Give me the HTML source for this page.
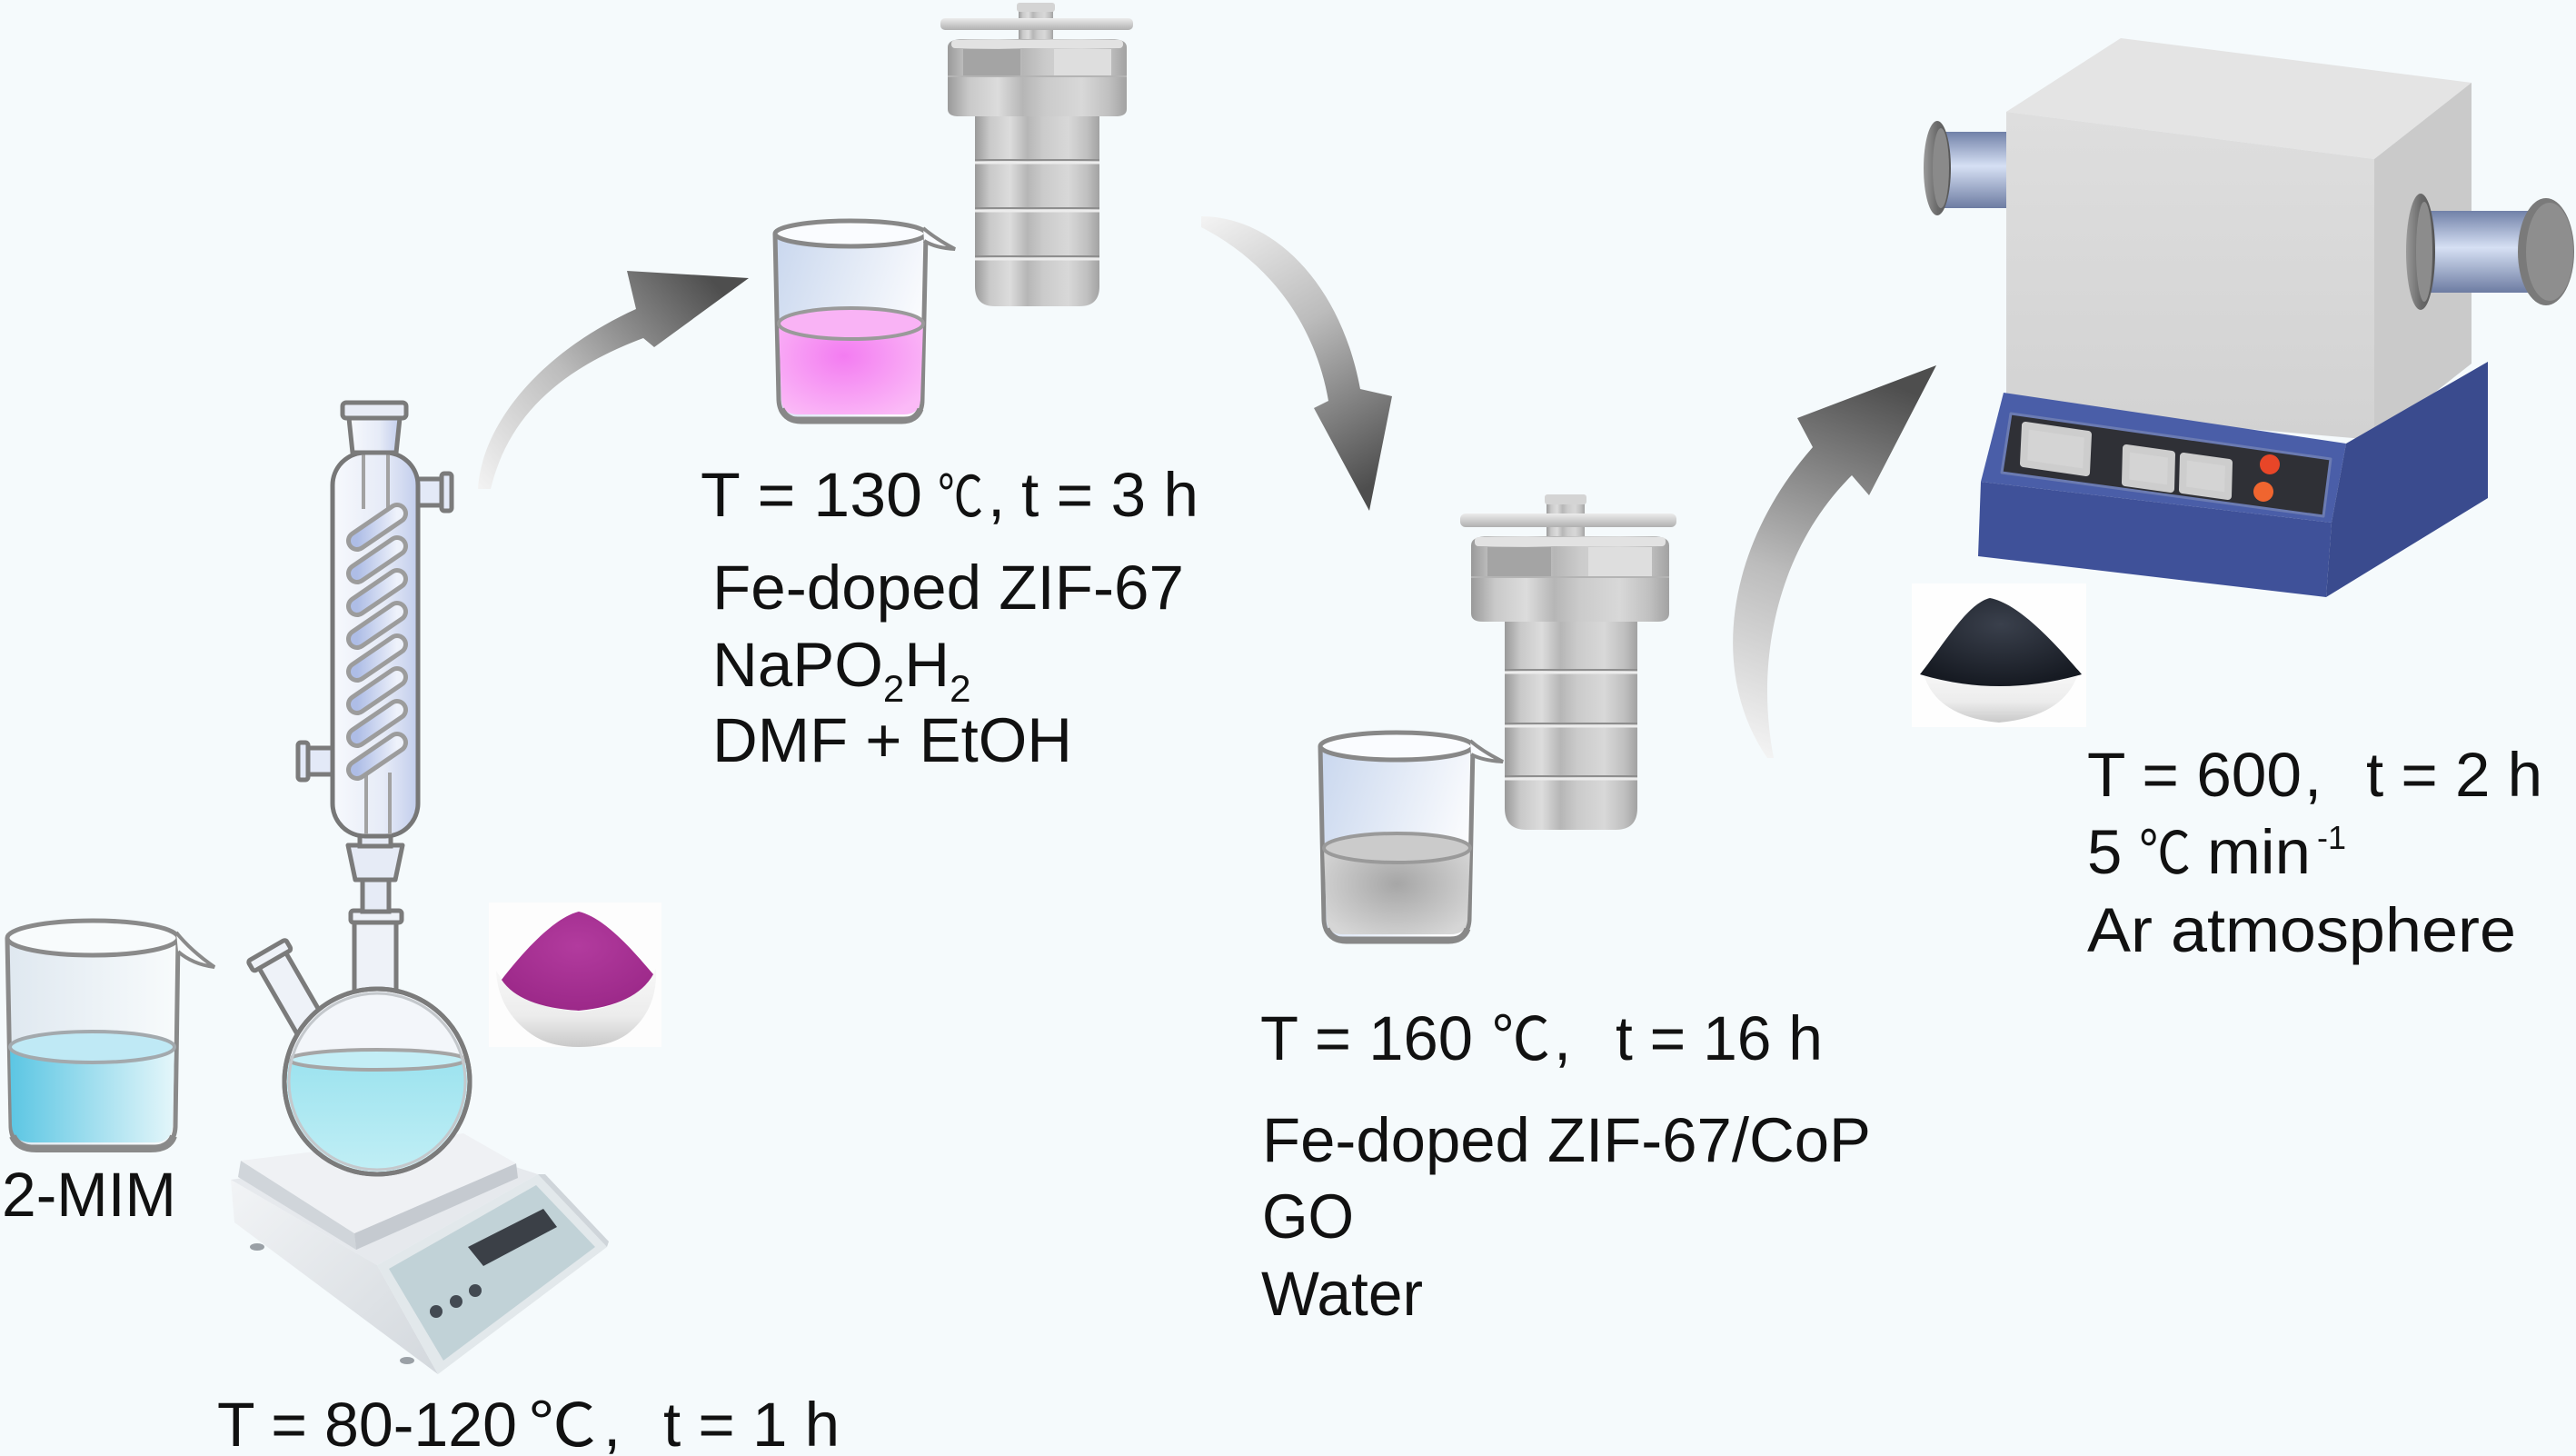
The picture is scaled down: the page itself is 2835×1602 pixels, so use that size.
<!DOCTYPE html>
<html><head><meta charset="utf-8">
<style>
html,body{margin:0;padding:0;background:#f5fafc;}
svg{display:block}
text{font-family:"Liberation Sans",Arial,sans-serif;fill:#111;}
.c{font-family:"Noto Sans CJK SC","Noto Serif CJK SC",sans-serif;}
</style></head>
<body>
<svg xmlns="http://www.w3.org/2000/svg" width="2835" height="1602" viewBox="0 0 2835 1602">
<defs>
  <linearGradient id="metal" x1="0" y1="0" x2="1" y2="0">
    <stop offset="0" stop-color="#9a9a9a"/><stop offset="0.12" stop-color="#c9c9c9"/>
    <stop offset="0.28" stop-color="#dcdcdc"/><stop offset="0.42" stop-color="#b6b6b6"/>
    <stop offset="0.55" stop-color="#cbcbcb"/><stop offset="0.75" stop-color="#d8d8d8"/>
    <stop offset="0.9" stop-color="#c0c0c0"/><stop offset="1" stop-color="#a2a2a2"/>
  </linearGradient>
  <linearGradient id="mV" x1="0" y1="0" x2="0" y2="1">
    <stop offset="0" stop-color="#ececec"/><stop offset="1" stop-color="#b0b0b0"/>
  </linearGradient>
  <linearGradient id="a1" gradientUnits="userSpaceOnUse" x1="528" y1="540" x2="790" y2="315">
    <stop offset="0" stop-color="#f3f3f3"/><stop offset="0.45" stop-color="#bcbcbc"/><stop offset="1" stop-color="#4e4e4e"/>
  </linearGradient>
  <linearGradient id="a2" gradientUnits="userSpaceOnUse" x1="1322" y1="240" x2="1500" y2="540">
    <stop offset="0" stop-color="#f3f3f3"/><stop offset="0.45" stop-color="#bcbcbc"/><stop offset="1" stop-color="#4e4e4e"/>
  </linearGradient>
  <linearGradient id="a3" gradientUnits="userSpaceOnUse" x1="1945" y1="832" x2="2100" y2="430">
    <stop offset="0" stop-color="#f3f3f3"/><stop offset="0.45" stop-color="#bcbcbc"/><stop offset="1" stop-color="#4e4e4e"/>
  </linearGradient>
  <linearGradient id="glassL" x1="0" y1="0" x2="1" y2="0">
    <stop offset="0" stop-color="#dfe8f0"/><stop offset="1" stop-color="#f8fbfc"/>
  </linearGradient>
  <linearGradient id="glassP" x1="0" y1="0" x2="1" y2="0.4">
    <stop offset="0" stop-color="#c9d7ee"/><stop offset="1" stop-color="#fbfcfe"/>
  </linearGradient>
  <linearGradient id="liqB" x1="0" y1="0" x2="1" y2="0">
    <stop offset="0" stop-color="#5cc6e3"/><stop offset="1" stop-color="#e4f6fa"/>
  </linearGradient>
  <radialGradient id="pinkL" cx="0.45" cy="0.45" r="0.65">
    <stop offset="0" stop-color="#f37cf1"/><stop offset="1" stop-color="#fbbaf7"/>
  </radialGradient>
  <radialGradient id="greyL" cx="0.5" cy="0.5" r="0.6">
    <stop offset="0" stop-color="#a6a6a6"/><stop offset="1" stop-color="#d6d6d6"/>
  </radialGradient>
  <linearGradient id="cond" x1="0" y1="0" x2="1" y2="0">
    <stop offset="0" stop-color="#f7f9fd"/><stop offset="0.6" stop-color="#e6ebf7"/><stop offset="1" stop-color="#c2cdec"/>
  </linearGradient>
  <linearGradient id="coil" x1="0" y1="0" x2="1" y2="0">
    <stop offset="0" stop-color="#aebde6"/><stop offset="1" stop-color="#eef2fb"/>
  </linearGradient>
  <linearGradient id="flq" x1="0" y1="0" x2="0" y2="1">
    <stop offset="0" stop-color="#9ce3ef"/><stop offset="1" stop-color="#c6f0f6"/>
  </linearGradient>
  <linearGradient id="pipe" x1="0" y1="0" x2="0" y2="1">
    <stop offset="0" stop-color="#7181a8"/><stop offset="0.45" stop-color="#d6e0f4"/><stop offset="1" stop-color="#6d7ca2"/>
  </linearGradient>
  <linearGradient id="disc" x1="0" y1="0" x2="1" y2="0">
    <stop offset="0" stop-color="#9a9a9a"/><stop offset="0.5" stop-color="#6a6a6a"/><stop offset="1" stop-color="#555"/>
  </linearGradient>
  <linearGradient id="box" x1="0" y1="0" x2="0" y2="1">
    <stop offset="0" stop-color="#dedede"/><stop offset="1" stop-color="#d2d2d2"/>
  </linearGradient>
  <linearGradient id="hpL" x1="0" y1="0" x2="1" y2="1">
    <stop offset="0" stop-color="#f2f4f6"/><stop offset="1" stop-color="#d3d8dd"/>
  </linearGradient>
  <radialGradient id="purp" cx="0.5" cy="0.35" r="0.7">
    <stop offset="0" stop-color="#b23b9e"/><stop offset="1" stop-color="#9a2787"/>
  </radialGradient>
  <radialGradient id="blk" cx="0.5" cy="0.3" r="0.7">
    <stop offset="0" stop-color="#3a404c"/><stop offset="1" stop-color="#161a22"/>
  </radialGradient>
  <linearGradient id="bowl" x1="0" y1="0" x2="0" y2="1">
    <stop offset="0" stop-color="#f8f8f8"/><stop offset="0.6" stop-color="#ececec"/><stop offset="1" stop-color="#c9c9c9"/>
  </linearGradient>
  <clipPath id="fc"><circle cx="415" cy="1190" r="99"/></clipPath>
</defs>

<rect x="0" y="0" width="2835" height="1602" fill="#f5fafc"/>

<!-- ARROWS -->
<path d="M526,538 C530,470 590,390 700,340 L690,298 L824,306 L720,382 L708,372 C620,405 560,455 540,538 Z" fill="url(#a1)"/>
<path d="M1322,238 C1400,238 1475,310 1497,428 L1532,436 L1507,562 L1446,449 L1462,441 C1448,360 1400,290 1322,250 Z" fill="url(#a2)"/>
<path d="M1945,834 C1880,740 1900,600 1995,492 L1978,460 L2131,402 L2057,545 L2038,523 C1960,600 1930,720 1952,834 Z" fill="url(#a3)"/>

<!-- LEFT BEAKER 2-MIM -->
<path d="M8,1032 L12,1240 Q13,1262 35,1262 L170,1262 Q192,1262 193,1240 L196,1032" fill="url(#glassL)" stroke="#8a8a8a" stroke-width="5"/>
<path d="M192,1152 L190,1238 Q189,1257 170,1257 L35,1257 Q14,1257 13,1238 L11,1152 A90.5 17 0 0 1 192 1152 Z" fill="url(#liqB)"/>
<ellipse cx="101.5" cy="1152" rx="90.5" ry="17" fill="#bfe9f5" stroke="#a3a9ad" stroke-width="4"/>
<path d="M14,1250 Q20,1264 40,1264 L166,1264 Q186,1264 191,1250" stroke="#8a8a8a" stroke-width="8" fill="none"/>
<ellipse cx="102" cy="1032" rx="94" ry="19" fill="#f8fbfc" stroke="#8a8a8a" stroke-width="5"/>
<path d="M194,1026 Q210,1046 236,1064 Q212,1061 196,1047" fill="#f8fbfc" stroke="#8a8a8a" stroke-width="4"/>

<!-- HOT PLATE -->
<polygon points="254,1298 500,1262 592,1292 415,1392" fill="#e6e9ed"/>
<polygon points="254,1298 415,1392 482,1512 258,1345" fill="url(#hpL)"/>
<polygon points="415,1392 592,1292 668,1372 482,1512" fill="#e2e8eb"/>
<polygon points="428,1396 590,1304 655,1372 488,1497" fill="#c1d2d7"/>
<polygon points="592,1292 600,1292 670,1366 668,1372" fill="#cfd5da"/>
<polygon points="515,1372 598,1330 613,1350 532,1393" fill="#3b4047"/>
<circle cx="480" cy="1443" r="7" fill="#434a52"/>
<circle cx="502" cy="1432" r="7" fill="#434a52"/>
<circle cx="523" cy="1420" r="7" fill="#434a52"/>
<ellipse cx="283" cy="1372" rx="8" ry="4" fill="#9aa0a6"/>
<ellipse cx="448" cy="1497" rx="8" ry="4" fill="#9aa0a6"/>
<polygon points="265,1277 390,1357 392,1375 262,1295" fill="#d0d5da"/>
<polygon points="390,1357 568,1280 570,1296 392,1375" fill="#c5cad0"/>
<polygon points="265,1277 510,1247 568,1280 390,1357" fill="#eff1f4"/>

<!-- REFLUX CONDENSER -->
<g transform="translate(322,1095) rotate(-30)">
  <rect x="-17" y="-45" width="34" height="85" fill="#eef2f8" stroke="#7b7b7b" stroke-width="5"/>
  <rect x="-24" y="-57" width="48" height="13" rx="3" fill="#eef2f8" stroke="#7b7b7b" stroke-width="5"/>
</g>
<rect x="390" y="1012" width="46" height="90" fill="#eef2f8" stroke="#7b7b7b" stroke-width="5"/>
<circle cx="415" cy="1190" r="102" fill="#f3f6fa" stroke="#7b7b7b" stroke-width="5"/>
<rect x="300" y="1166" width="230" height="140" fill="url(#flq)" clip-path="url(#fc)"/>
<ellipse cx="415" cy="1166" rx="97" ry="11" fill="#c3eef6" stroke="#a5a5a5" stroke-width="4" clip-path="url(#fc)"/>
<circle cx="415" cy="1190" r="97" fill="none" stroke="#c4c8cc" stroke-width="3"/>
<circle cx="415" cy="1190" r="102" fill="none" stroke="#7b7b7b" stroke-width="5"/>
<rect x="386" y="1002" width="56" height="13" rx="3" fill="#eef2f8" stroke="#7b7b7b" stroke-width="5"/>
<rect x="399" y="966" width="29" height="37" fill="#e6ebf6" stroke="#7b7b7b" stroke-width="5"/>
<polygon points="383,930 443,930 435,968 391,968" fill="#e6ebf6" stroke="#7b7b7b" stroke-width="5" stroke-linejoin="round"/>
<rect x="396" y="914" width="34" height="17" fill="#e6ebf6" stroke="#7b7b7b" stroke-width="5"/>
<rect x="452" y="527" width="36" height="29" fill="#e3e9f7" stroke="#7b7b7b" stroke-width="5"/>
<rect x="486" y="521" width="11" height="41" rx="3" fill="#e3e9f7" stroke="#7b7b7b" stroke-width="5"/>
<rect x="337" y="823" width="36" height="29" fill="#e3e9f7" stroke="#7b7b7b" stroke-width="5"/>
<rect x="328" y="817" width="11" height="41" rx="3" fill="#e3e9f7" stroke="#7b7b7b" stroke-width="5"/>
<rect x="366" y="498" width="94" height="422" rx="36" fill="url(#cond)" stroke="#777" stroke-width="5"/>
<line x1="400" y1="500" x2="400" y2="560" stroke="#a2a2a2" stroke-width="4"/>
<line x1="427" y1="500" x2="427" y2="560" stroke="#a2a2a2" stroke-width="4"/>
<line x1="403" y1="850" x2="403" y2="918" stroke="#a2a2a2" stroke-width="4"/>
<line x1="429" y1="850" x2="429" y2="918" stroke="#a2a2a2" stroke-width="4"/>
<g stroke-linecap="round" fill="none">
  <g stroke="#9c9c9c" stroke-width="24">
    <line x1="393" y1="595" x2="437" y2="565"/><line x1="393" y1="631" x2="437" y2="601"/>
    <line x1="393" y1="667" x2="437" y2="637"/><line x1="393" y1="703" x2="437" y2="673"/>
    <line x1="393" y1="739" x2="437" y2="709"/><line x1="393" y1="775" x2="437" y2="745"/>
    <line x1="393" y1="811" x2="437" y2="781"/><line x1="393" y1="847" x2="437" y2="817"/>
  </g>
  <g stroke="url(#coil)" stroke-width="14">
    <line x1="393" y1="595" x2="437" y2="565"/><line x1="393" y1="631" x2="437" y2="601"/>
    <line x1="393" y1="667" x2="437" y2="637"/><line x1="393" y1="703" x2="437" y2="673"/>
    <line x1="393" y1="739" x2="437" y2="709"/><line x1="393" y1="775" x2="437" y2="745"/>
    <line x1="393" y1="811" x2="437" y2="781"/><line x1="393" y1="847" x2="437" y2="817"/>
  </g>
</g>
<polygon points="384,460 440,460 436,498 388,498" fill="url(#cond)" stroke="#7b7b7b" stroke-width="5" stroke-linejoin="round"/>
<rect x="377" y="443" width="70" height="17" rx="4" fill="#e8ecf6" stroke="#7b7b7b" stroke-width="5"/>

<!-- PURPLE POWDER -->
<rect x="538" y="993" width="190" height="159" fill="#fdfdfd"/>
<path d="M546,1068 Q548,1112 585,1138 Q605,1152 637,1152 Q670,1152 690,1138 Q724,1112 722,1066 Q700,1108 637,1113 Q570,1108 546,1068 Z" fill="url(#bowl)"/>
<path d="M552,1078 C572,1052 608,1010 637,1003 C667,1010 700,1050 719,1072 Q700,1106 637,1112 Q572,1108 552,1078 Z" fill="url(#purp)"/>

<!-- PINK BEAKER -->
<path d="M853,257 L857,440 Q858,461 878,461 L995,461 Q1015,461 1015,440 L1019,257" fill="url(#glassP)" stroke="#888" stroke-width="5"/>
<path d="M1016,356 L1013,440 Q1012,456 995,456 L878,456 Q861,456 860,440 L857,356 A79.5 17 0 0 1 1016 356 Z" fill="url(#pinkL)"/>
<ellipse cx="936.5" cy="356" rx="79.5" ry="17" fill="#f9b3f5" stroke="#9a9a9a" stroke-width="4"/>
<path d="M860,450 Q866,463 882,463 L992,463 Q1008,463 1013,450" stroke="#888" stroke-width="7" fill="none"/>
<ellipse cx="936" cy="257" rx="83" ry="14" fill="#fafcff" stroke="#888" stroke-width="5"/>
<path d="M1016,251 Q1030,263 1051,274 Q1030,273 1017,265" fill="#fafcff" stroke="#888" stroke-width="4"/>

<!-- AUTOCLAVE 1 -->
<rect x="1121" y="8" width="38" height="42" fill="url(#metal)"/>
<rect x="1035" y="20" width="212" height="13" rx="5" fill="url(#mV)"/>
<rect x="1119" y="3" width="42" height="10" rx="3" fill="#d4d4d4"/>
<path d="M1073,124 L1210,124 L1210,315 Q1210,337 1188,337 L1095,337 Q1073,337 1073,315 Z" fill="url(#metal)"/>
<path d="M1043,52 Q1043,43 1060,43 L1223,43 Q1240,43 1240,52 L1240,120 Q1240,128 1228,128 L1055,128 Q1043,128 1043,120 Z" fill="url(#metal)"/>
<rect x="1047" y="44" width="189" height="9" rx="4" fill="#e2e2e2"/>
<rect x="1060" y="54" width="63" height="30" fill="#a4a4a4"/>
<rect x="1160" y="54" width="63" height="30" fill="#dedede"/>
<line x1="1043" y1="84" x2="1240" y2="84" stroke="#b4b4b4" stroke-width="2"/>
<g>
  <line x1="1073" y1="176" x2="1210" y2="176" stroke="#8e8e8e" stroke-width="2"/><line x1="1073" y1="179" x2="1210" y2="179" stroke="#ececec" stroke-width="3"/>
  <line x1="1073" y1="229" x2="1210" y2="229" stroke="#8e8e8e" stroke-width="2"/><line x1="1073" y1="232" x2="1210" y2="232" stroke="#ececec" stroke-width="3"/>
  <line x1="1073" y1="282" x2="1210" y2="282" stroke="#8e8e8e" stroke-width="2"/><line x1="1073" y1="285" x2="1210" y2="285" stroke="#ececec" stroke-width="3"/>
</g>

<!-- AUTOCLAVE 2 -->
<rect x="1702" y="552" width="42" height="48" fill="url(#metal)"/>
<rect x="1607" y="565" width="238" height="15" rx="6" fill="url(#mV)"/>
<rect x="1700" y="544" width="46" height="11" rx="3" fill="#d4d4d4"/>
<path d="M1656,680 L1802,680 L1802,889 Q1802,913 1778,913 L1680,913 Q1656,913 1656,889 Z" fill="url(#metal)"/>
<path d="M1619,600 Q1619,590 1638,590 L1818,590 Q1837,590 1837,600 L1837,675 Q1837,684 1824,684 L1632,684 Q1619,684 1619,675 Z" fill="url(#metal)"/>
<rect x="1623" y="591" width="210" height="10" rx="4" fill="#e2e2e2"/>
<rect x="1637" y="602" width="70" height="33" fill="#a4a4a4"/>
<rect x="1748" y="602" width="70" height="33" fill="#dedede"/>
<line x1="1619" y1="635" x2="1837" y2="635" stroke="#b4b4b4" stroke-width="2"/>
<g>
  <line x1="1656" y1="737" x2="1802" y2="737" stroke="#8e8e8e" stroke-width="2"/><line x1="1656" y1="740" x2="1802" y2="740" stroke="#ececec" stroke-width="3"/>
  <line x1="1656" y1="796" x2="1802" y2="796" stroke="#8e8e8e" stroke-width="2"/><line x1="1656" y1="799" x2="1802" y2="799" stroke="#ececec" stroke-width="3"/>
  <line x1="1656" y1="854" x2="1802" y2="854" stroke="#8e8e8e" stroke-width="2"/><line x1="1656" y1="857" x2="1802" y2="857" stroke="#ececec" stroke-width="3"/>
</g>

<!-- GREY BEAKER -->
<path d="M1453,821 L1457,1012 Q1458,1033 1478,1033 L1596,1033 Q1616,1033 1617,1012 L1621,821" fill="url(#glassP)" stroke="#888" stroke-width="5"/>
<path d="M1618,933 L1615,1012 Q1614,1028 1596,1028 L1478,1028 Q1461,1028 1460,1012 L1457,933 A80.5 16 0 0 1 1618 933 Z" fill="url(#greyL)"/>
<ellipse cx="1537.5" cy="933" rx="80.5" ry="16" fill="#cbcbcb" stroke="#9a9a9a" stroke-width="4"/>
<path d="M1460,1022 Q1466,1035 1482,1035 L1594,1035 Q1610,1035 1615,1022" stroke="#888" stroke-width="7" fill="none"/>
<ellipse cx="1537" cy="821" rx="84" ry="15" fill="#fafcff" stroke="#888" stroke-width="5"/>
<path d="M1618,815 Q1632,827 1654,838 Q1632,837 1619,830" fill="#fafcff" stroke="#888" stroke-width="4"/>

<!-- FURNACE -->
<rect x="2130" y="145" width="80" height="84" fill="url(#pipe)"/>
<ellipse cx="2132" cy="185" rx="15" ry="52" fill="url(#disc)"/>
<ellipse cx="2136" cy="185" rx="9" ry="44" fill="#8a8a8a"/>
<polygon points="2208,123 2334,42 2720,91 2613,175" fill="#e4e4e4"/>
<polygon points="2208,123 2613,175 2613,484 2208,449" fill="url(#box)"/>
<polygon points="2613,175 2720,91 2720,400 2613,484" fill="#cacaca"/>
<rect x="2660" y="232" width="142" height="90" fill="url(#pipe)"/>
<ellipse cx="2664" cy="277" rx="16" ry="64" fill="url(#disc)"/>
<ellipse cx="2668" cy="277" rx="9" ry="55" fill="#8c8c8c"/>
<ellipse cx="2802" cy="277" rx="31" ry="59" fill="#7a7a7a"/>
<ellipse cx="2806" cy="277" rx="26" ry="54" fill="#8e8e8e"/>
<polygon points="2205,432 2582,488 2566,575 2180,530" fill="#4a5ea8"/>
<polygon points="2180,530 2566,575 2560,657 2177,612" fill="#3f5199"/>
<polygon points="2582,488 2738,398 2738,548 2560,657 2566,575" fill="#3a4b8e"/>
<polygon points="2213,455 2565,505 2557,568 2203,520" fill="#2f3036" stroke="#6b7bb2" stroke-width="3" stroke-linejoin="round"/>
<polygon points="2229,468 2298,478 2296,520 2227,510" fill="#d4d4d4" stroke="#cdcdcd" stroke-width="8" stroke-linejoin="round"/>
<polygon points="2340,493 2390,500 2389,538 2339,531" fill="#d4d4d4" stroke="#cdcdcd" stroke-width="8" stroke-linejoin="round"/>
<polygon points="2403,502 2453,509 2452,546 2402,539" fill="#d4d4d4" stroke="#cdcdcd" stroke-width="8" stroke-linejoin="round"/>
<circle cx="2498" cy="511" r="11" fill="#e84628"/>
<circle cx="2491" cy="541" r="11" fill="#f0652f"/>

<!-- BLACK POWDER -->
<rect x="2104" y="642" width="192" height="158" fill="#fefefe"/>
<path d="M2116,738 Q2128,788 2200,795 Q2274,788 2288,738 Q2200,768 2116,738 Z" fill="url(#bowl)"/>
<path d="M2113,742 C2140,708 2165,664 2190,658 C2222,664 2262,708 2291,742 Q2200,768 2113,742 Z" fill="url(#blk)"/>

<!-- TEXT -->
<text x="771" y="568" font-size="69" textLength="244" lengthAdjust="spacingAndGlyphs">T = 130</text>
<text x="1032" y="568" class="c" font-size="62" textLength="50" lengthAdjust="spacingAndGlyphs">℃</text>
<text x="1087" y="568" font-size="69">,</text>
<text x="1124" y="568" font-size="69" textLength="195" lengthAdjust="spacingAndGlyphs">t = 3 h</text>

<text x="784" y="670" font-size="69" textLength="519" lengthAdjust="spacingAndGlyphs">Fe-doped ZIF-67</text>
<text x="784" y="755" font-size="69">NaPO<tspan font-size="42" dy="17">2</tspan><tspan dy="-17">H</tspan><tspan font-size="42" dy="17">2</tspan></text>
<text x="784" y="838" font-size="69" textLength="396" lengthAdjust="spacingAndGlyphs">DMF + EtOH</text>

<text x="2" y="1338" font-size="69" textLength="192" lengthAdjust="spacingAndGlyphs">2-MIM</text>

<text x="239" y="1591" font-size="69" textLength="330" lengthAdjust="spacingAndGlyphs">T = 80-120</text>
<text x="582" y="1591" class="c" font-size="66" textLength="74" lengthAdjust="spacingAndGlyphs">℃</text>
<text x="664" y="1591" font-size="69">,</text>
<text x="730" y="1591" font-size="69" textLength="194" lengthAdjust="spacingAndGlyphs">t = 1 h</text>

<text x="1387" y="1166" font-size="69" textLength="234" lengthAdjust="spacingAndGlyphs">T = 160</text>
<text x="1642" y="1166" class="c" font-size="66" textLength="64" lengthAdjust="spacingAndGlyphs">℃</text>
<text x="1710" y="1166" font-size="69">,</text>
<text x="1778" y="1166" font-size="69" textLength="228" lengthAdjust="spacingAndGlyphs">t = 16 h</text>

<text x="1389" y="1278" font-size="69" textLength="670" lengthAdjust="spacingAndGlyphs">Fe-doped ZIF-67/CoP</text>
<text x="1389" y="1362" font-size="69" textLength="101" lengthAdjust="spacingAndGlyphs">GO</text>
<text x="1388" y="1447" font-size="69" textLength="178" lengthAdjust="spacingAndGlyphs">Water</text>

<text x="2297" y="876" font-size="69" textLength="236" lengthAdjust="spacingAndGlyphs">T = 600</text>
<text x="2536" y="876" font-size="69">,</text>
<text x="2604" y="876" font-size="69" textLength="194" lengthAdjust="spacingAndGlyphs">t = 2 h</text>

<text x="2297" y="961" font-size="69">5</text>
<text x="2354" y="961" class="c" font-size="64" textLength="57" lengthAdjust="spacingAndGlyphs">℃</text>
<text x="2429" y="961" font-size="69" textLength="114" lengthAdjust="spacingAndGlyphs">min</text>
<text x="2550" y="934" font-size="36">-1</text>

<text x="2297" y="1047" font-size="69" textLength="472" lengthAdjust="spacingAndGlyphs">Ar atmosphere</text>
</svg>
</body></html>
